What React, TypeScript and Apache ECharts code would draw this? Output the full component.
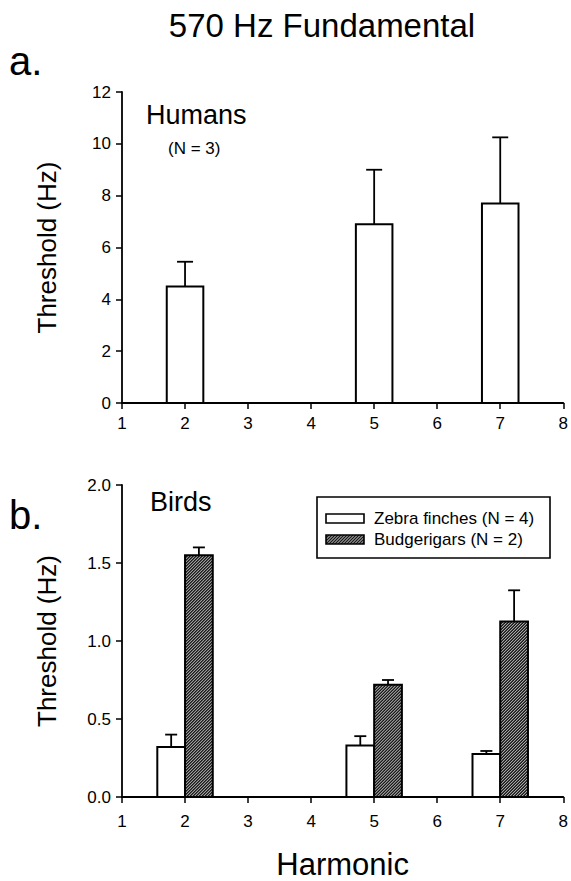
import React, { useEffect, useRef } from 'react';
import * as echarts from 'echarts';

// ---- Data ----
const harmonics = [2, 5, 7];
const humanMeans = [4.5, 6.9, 7.7];
const humanSE = [0.95, 2.1, 2.55];
const zebraMeans = [0.32, 0.33, 0.275];
const zebraSE = [0.08, 0.06, 0.02];
const budgieMeans = [1.55, 0.72, 1.125];
const budgieSE = [0.05, 0.03, 0.2];
const xTicks = [1, 2, 3, 4, 5, 6, 7, 8];
const humanYTicks = [0, 2, 4, 6, 8, 10, 12];
const birdYTicks = [0, 0.5, 1.0, 1.5, 2.0];
const seriesNames = ['Humans', 'Zebra finches (N = 4)', 'Budgerigars (N = 2)'];

const FONT = "'Liberation Sans', Arial, Helvetica, sans-serif";

function hatchLines(x0: number, y0: number, x1: number, y1: number, step: number, style: any) {
  const out: any[] = [];
  for (let c = x0 + y0 + step / 2; c <= x1 + y1; c += step) {
    const xa = Math.max(x0, c - y1);
    const xb = Math.min(x1, c - y0);
    if (xb > xa) {
      out.push({ type: 'line', silent: true, shape: { x1: xa, y1: c - xa, x2: xb, y2: c - xb }, style });
    }
  }
  return out;
}

function barRenderer(offL: number, offR: number, hatched: boolean, capHalf: number) {
  return (params: any, api: any) => {
    const x = api.value(0);
    const m = api.value(1);
    const se = api.value(2);
    const pTL = api.coord([x + offL, m]);
    const pBR = api.coord([x + offR, 0]);
    const pErr = api.coord([x + (offL + offR) / 2, m + se]);
    const x0 = pTL[0], y0 = pTL[1], x1 = pBR[0], y1 = pBR[1];
    const xc = (x0 + x1) / 2;
    const children: any[] = [];
    if (hatched) {
      children.push({ type: 'rect', shape: { x: x0, y: y0, width: x1 - x0, height: y1 - y0 }, style: { fill: '#1a1a1a' } });
      children.push(...hatchLines(x0, y0, x1, y1, 3, { stroke: '#ffffff', lineWidth: 0.8 }));
      children.push({ type: 'rect', shape: { x: x0, y: y0, width: x1 - x0, height: y1 - y0 }, style: { fill: 'none', stroke: '#000', lineWidth: 2 } });
    } else {
      children.push({ type: 'rect', shape: { x: x0, y: y0, width: x1 - x0, height: y1 - y0 }, style: { fill: '#fff', stroke: '#000', lineWidth: 2 } });
    }
    children.push({ type: 'line', shape: { x1: xc, y1: y0, x2: xc, y2: pErr[1] }, style: { stroke: '#000', lineWidth: 1.8 } });
    children.push({ type: 'line', shape: { x1: xc - capHalf, y1: pErr[1], x2: xc + capHalf, y2: pErr[1] }, style: { stroke: '#000', lineWidth: 1.8 } });
    return { type: 'group', children };
  };
}

function axisBase(labelMargin: number) {
  return {
    axisLine: { show: true, onZero: false, lineStyle: { color: '#000', width: 1.8 } },
    axisTick: { show: true, length: 6, lineStyle: { color: '#000', width: 1.5 } },
    axisLabel: { color: '#000', fontSize: 17, fontFamily: FONT, margin: labelMargin },
    splitLine: { show: false },
  };
}

export default function App() {
  const ref = useRef<HTMLDivElement>(null);
  useEffect(() => {
    if (!ref.current) return;
    const chart = echarts.init(ref.current, null, { renderer: 'svg' });
    const humanData = harmonics.map((h, i) => [h, humanMeans[i], humanSE[i]]);
    const zebraData = harmonics.map((h, i) => [h, zebraMeans[i], zebraSE[i]]);
    const budgieData = harmonics.map((h, i) => [h, budgieMeans[i], budgieSE[i]]);

    const xMin = xTicks[0];
    const xMax = xTicks[xTicks.length - 1];
    const xInt = xTicks[1] - xTicks[0];

    const legendHatch = hatchLines(326, 535, 364, 544, 3, { stroke: '#fff', lineWidth: 0.8 });

    const option: any = {
      animation: false,
      backgroundColor: '#fff',
      grid: [
        { left: 122, right: 7, top: 92, height: 311 },
        { left: 122, right: 7, top: 485, height: 313 },
      ],
      xAxis: [
        { type: 'value', gridIndex: 0, min: xMin, max: xMax, interval: xInt, ...axisBase(12) },
        {
          type: 'value', gridIndex: 1, min: xMin, max: xMax, interval: xInt, ...axisBase(16),
          name: 'Harmonic', nameLocation: 'middle', nameGap: 52,
          nameTextStyle: { color: '#000', fontSize: 31, fontFamily: FONT },
        },
      ],
      yAxis: [
        {
          type: 'value', gridIndex: 0, min: humanYTicks[0], max: humanYTicks[humanYTicks.length - 1],
          interval: humanYTicks[1] - humanYTicks[0], ...axisBase(11),
          name: 'Threshold (Hz)', nameLocation: 'middle', nameGap: 62,
          nameTextStyle: { color: '#000', fontSize: 26, fontFamily: FONT },
        },
        {
          type: 'value', gridIndex: 1, min: birdYTicks[0], max: birdYTicks[birdYTicks.length - 1],
          interval: birdYTicks[1] - birdYTicks[0], ...axisBase(11),
          axisLabel: { color: '#000', fontSize: 17, fontFamily: FONT, margin: 11, formatter: (v: number) => v.toFixed(1) },
          name: 'Threshold (Hz)', nameLocation: 'middle', nameGap: 62,
          nameTextStyle: { color: '#000', fontSize: 26, fontFamily: FONT },
        },
      ],
      series: [
        {
          type: 'custom', name: seriesNames[0], xAxisIndex: 0, yAxisIndex: 0,
          encode: { x: 0, y: 1 }, data: humanData, renderItem: barRenderer(-0.29, 0.29, false, 8),
        },
        {
          type: 'custom', name: seriesNames[1], xAxisIndex: 1, yAxisIndex: 1,
          encode: { x: 0, y: 1 }, data: zebraData, renderItem: barRenderer(-0.44, 0, false, 6),
        },
        {
          type: 'custom', name: seriesNames[2], xAxisIndex: 1, yAxisIndex: 1,
          encode: { x: 0, y: 1 }, data: budgieData, renderItem: barRenderer(0, 0.44, true, 6),
        },
      ],
      graphic: [
        { type: 'text', x: 322, y: 25, style: { text: '570 Hz Fundamental', font: `33px ${FONT}`, fill: '#000', textAlign: 'center', textVerticalAlign: 'middle' } },
        { type: 'text', x: 9, y: 61, style: { text: 'a.', font: `40px ${FONT}`, fill: '#000', textAlign: 'left', textVerticalAlign: 'middle' } },
        { type: 'text', x: 9, y: 515, style: { text: 'b.', font: `40px ${FONT}`, fill: '#000', textAlign: 'left', textVerticalAlign: 'middle' } },
        { type: 'text', x: 146, y: 115, style: { text: 'Humans', font: `27px ${FONT}`, fill: '#000', textAlign: 'left', textVerticalAlign: 'middle' } },
        { type: 'text', x: 168, y: 148, style: { text: '(N = 3)', font: `17px ${FONT}`, fill: '#000', textAlign: 'left', textVerticalAlign: 'middle' } },
        { type: 'text', x: 150, y: 502, style: { text: 'Birds', font: `27px ${FONT}`, fill: '#000', textAlign: 'left', textVerticalAlign: 'middle' } },
        { type: 'rect', shape: { x: 317, y: 497, width: 233, height: 61 }, style: { fill: '#fff', stroke: '#000', lineWidth: 1.6 } },
        { type: 'rect', shape: { x: 326, y: 514, width: 38, height: 9 }, style: { fill: '#fff', stroke: '#000', lineWidth: 1.6 } },
        { type: 'rect', shape: { x: 326, y: 535, width: 38, height: 9 }, style: { fill: '#1a1a1a' } },
        ...legendHatch,
        { type: 'rect', shape: { x: 326, y: 535, width: 38, height: 9 }, style: { fill: 'none', stroke: '#000', lineWidth: 1.6 } },
        { type: 'text', x: 374, y: 518, style: { text: seriesNames[1], font: `17px ${FONT}`, fill: '#000', textAlign: 'left', textVerticalAlign: 'middle' } },
        { type: 'text', x: 374, y: 539, style: { text: seriesNames[2], font: `17px ${FONT}`, fill: '#000', textAlign: 'left', textVerticalAlign: 'middle' } },
      ],
    };
    chart.setOption(option);
    return () => chart.dispose();
  }, []);
  return <div ref={ref} style={{ position: 'absolute', left: 0, top: 0, width: 571, height: 881, background: '#fff' }} />;
}
